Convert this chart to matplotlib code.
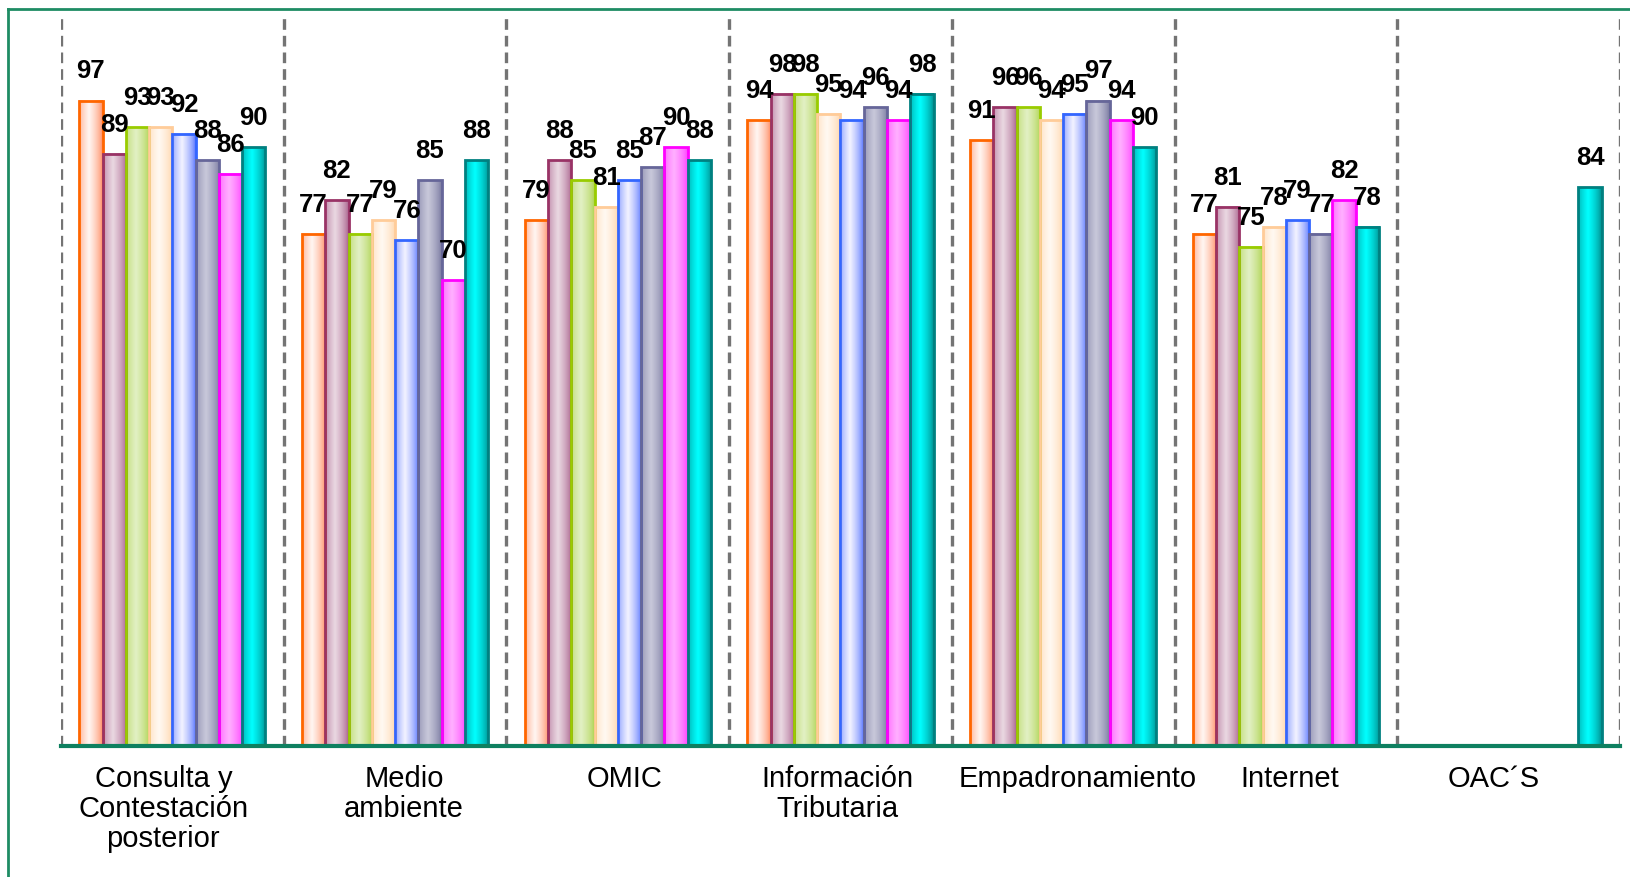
import numpy as np
import matplotlib
matplotlib.use("Agg")
import matplotlib.pyplot as plt
import matplotlib.transforms as mtransforms
from matplotlib.colors import to_rgb

plt.rcParams['font.family'] = ['Liberation Sans', 'DejaVu Sans']

categories = ["Consulta y\nContestación\nposterior", "Medio\nambiente", "OMIC",
              "Información\nTributaria", "Empadronamiento", "Internet", "OAC´S"]

serie_1 = [97, 77, 79, 94, 91, 77, np.nan]
serie_2 = [89, 82, 88, 98, 96, 81, np.nan]
serie_3 = [93, 77, 85, 98, 96, 75, np.nan]
serie_4 = [93, 79, 81, 95, 94, 78, np.nan]
serie_5 = [92, 76, 85, 94, 95, 79, np.nan]
serie_6 = [88, 85, 87, 96, 97, 77, np.nan]
serie_7 = [86, 70, 90, 94, 94, 82, np.nan]
serie_8 = [90, 88, 88, 98, 90, 78, 84]
series = [serie_1, serie_2, serie_3, serie_4, serie_5, serie_6, serie_7, serie_8]

# (dark side, light centre, edge)
styles = [
    ("#FF7F50", "#FFF6F2", "#FF6600"),
    ("#A05080", "#EAD8E2", "#993366"),
    ("#A8D040", "#E2F0C4", "#99CC00"),
    ("#FFD0A0", "#FFF9F2", "#FFCC99"),
    ("#4466FF", "#F2F2FF", "#3366FF"),
    ("#6E6E98", "#C8C8DA", "#666699"),
    ("#FF33FF", "#FFB0FF", "#FF00FF"),
    ("#007E7E", "#00FFFF", "#008080"),
]

# small horizontal shifts of the category labels (pixels), as in the original
label_shift = [-9, 9, 7, -3, 14, 4, -15]

fig = plt.figure(figsize=(16.31, 8.78), dpi=100)
ax = fig.add_axes([61/1631, 131/878, (1620-61)/1631, (863-131)/878])

# green frame around the figure (left and top visible)
fig.add_artist(plt.Line2D([8/1631, 8/1631], [0, 1-10/878], color="#1E8C64", lw=2, transform=fig.transFigure))
fig.add_artist(plt.Line2D([8/1631, 1], [1-10/878, 1-10/878], color="#1E8C64", lw=2, transform=fig.transFigure))

x = np.arange(len(categories))
n = len(series)
w = 0.836 / n

t = np.linspace(0, 1, 64)
prof = np.clip(1 - np.abs(t - 0.42) / 0.58, 0, 1) ** 0.6

for i, (vals, (dark, light, edge)) in enumerate(zip(series, styles)):
    pos = x - 0.418 + w * (i + 0.5)
    bars = ax.bar(pos, np.nan_to_num(vals, nan=0), width=w, color="none",
                  edgecolor=edge, linewidth=2, zorder=4)
    d, l = np.array(to_rgb(dark)), np.array(to_rgb(light))
    grad = (d[None, :] * (1 - prof[:, None]) + l[None, :] * prof[:, None])[None, :, :]
    for b, v in zip(bars, vals):
        if np.isnan(v):
            b.set_visible(False)
            continue
        ax.imshow(grad, extent=[b.get_x(), b.get_x() + b.get_width(), 0, b.get_height()],
                  aspect='auto', zorder=3, interpolation='bilinear')
        ax.annotate(f"{v:.0f}", (b.get_x() + b.get_width() / 2, b.get_height()),
                    xytext=(0, 13), textcoords="offset points", ha="center", va="bottom",
                    fontsize=18.5, fontweight="bold", color="black", zorder=6)

for b in np.arange(len(categories) + 1) - 0.5:
    ax.axvline(b, color="#747474", lw=2.4, ls=(0, (3.2, 1.8)), zorder=1)

ax.set_xlim(-0.5, len(categories) - 0.5)
ax.set_ylim(0, 110)
ax.set_xticks(x)
ax.set_xticklabels(categories, fontsize=21, linespacing=1.08)
ax.tick_params(axis='x', length=0, pad=13)
for lab, dx in zip(ax.get_xticklabels(), label_shift):
    lab.set_transform(lab.get_transform() + mtransforms.ScaledTranslation(dx / 100, 0, fig.dpi_scale_trans))
ax.set_yticks([])
for s in ["top", "left", "right"]:
    ax.spines[s].set_visible(False)
ax.spines["bottom"].set_color("#0E8060")
ax.spines["bottom"].set_linewidth(3)
ax.spines["bottom"].set_zorder(5)

fig.savefig("out.png", dpi=100)
